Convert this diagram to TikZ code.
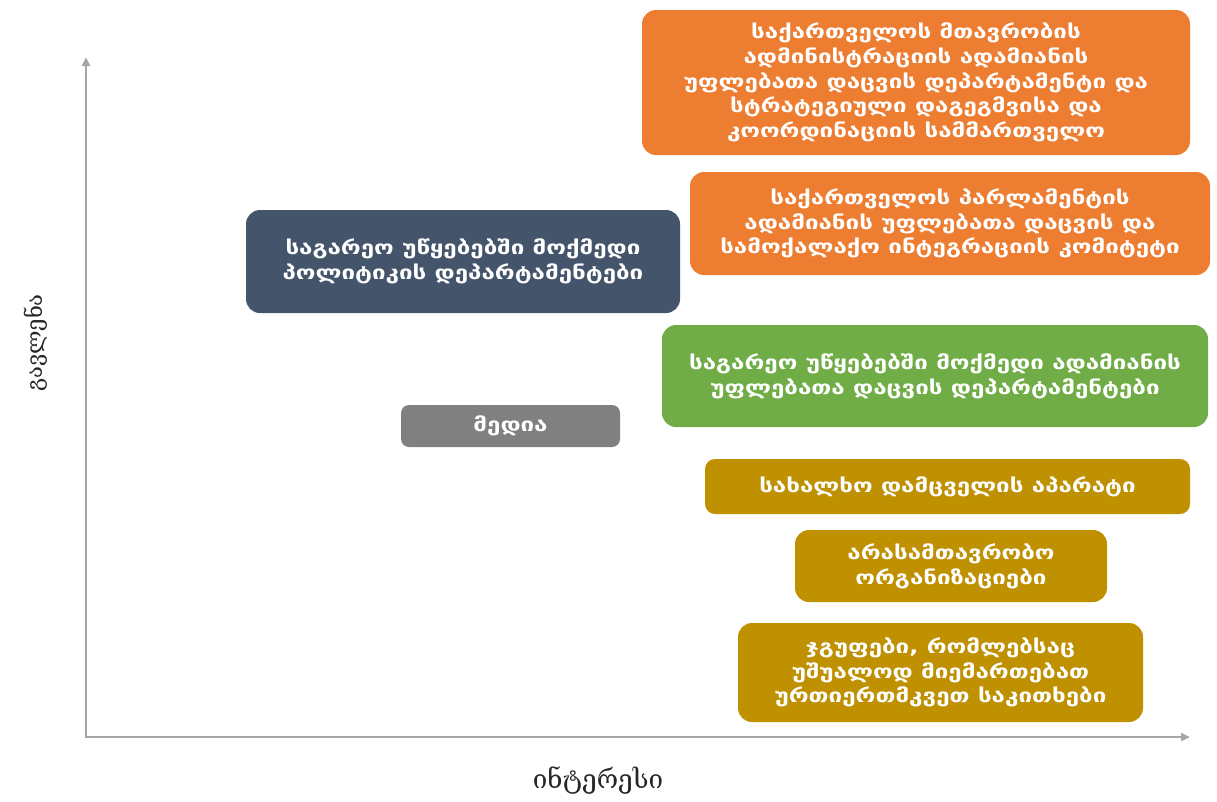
\documentclass[tikz,border=0pt]{standalone}
\usepackage{fontspec}
\setmainfont{DejaVu Sans}
\newfontfamily\boxfont[FakeStretch=1.27]{DejaVu Sans}
\newfontfamily\axisfont{DejaVu Serif}
\usetikzlibrary{arrows.meta}
\definecolor{cOrange}{HTML}{ED7D31}
\definecolor{cNavy}{HTML}{44546A}
\definecolor{cGreen}{HTML}{70AD47}
\definecolor{cGray}{HTML}{808080}
\definecolor{cGold}{HTML}{BF9000}
\definecolor{cAxis}{HTML}{A6A6A6}
\definecolor{cLabel}{HTML}{262626}
\tikzset{
  card/.style={rounded corners=14pt, inner sep=0pt, align=center, text=white,
    font=\boxfont\bfseries\fontsize{19}{24.8}\selectfont},
  axisline/.style={draw=cAxis, line width=2.5pt, {Triangle[length=9pt,width=8pt]}-{Triangle[length=9pt,width=8pt]}},
  axislabel/.style={text=cLabel, font=\axisfont\fontsize{26}{30}\selectfont}
}
\begin{document}
\begin{tikzpicture}[x=1pt,y=-1pt]
\useasboundingbox (0,0) rectangle (1217,801);
\coordinate (top) at (86,57);
\coordinate (orig) at (86,737);
\coordinate (right) at (1190,737);
\draw[axisline] (top) -- (orig) -- (right);
\node[axislabel, rotate=90, font=\axisfont\fontsize{22}{26}\selectfont] (ylab) at (36,343) {გავლენა};
\node[axislabel] (xlab) at (598,780) {ინტერესი};

\node[card, fill=cOrange, minimum width=548pt, minimum height=145pt] (b1) at (916,82.5)
 {საქართველოს მთავრობის\\ადმინისტრაციის ადამიანის\\უფლებათა დაცვის დეპარტამენტი და\\სტრატეგიული დაგეგმვისა და\\კოორდინაციის სამმართველო};
\node[card, fill=cOrange, minimum width=520pt, minimum height=103pt] (b2) at (950,223.5)
 {საქართველოს პარლამენტის\\ადამიანის უფლებათა დაცვის და\\სამოქალაქო ინტეგრაციის კომიტეტი};
\node[card, fill=cNavy, minimum width=434pt, minimum height=103pt] (b3) at (463,261.5)
 {საგარეო უწყებებში მოქმედი\\პოლიტიკის დეპარტამენტები};
\node[card, fill=cGreen, minimum width=546pt, minimum height=102pt] (b4) at (935,376)
 {საგარეო უწყებებში მოქმედი ადამიანის\\უფლებათა დაცვის დეპარტამენტები};
\node[card, fill=cGray, rounded corners=8pt, minimum width=219pt, minimum height=42pt] (b5) at (510.5,426)
 {მედია};
\node[card, fill=cGold, rounded corners=10pt, minimum width=485pt, minimum height=55pt] (b6) at (947.5,486.5)
 {სახალხო დამცველის აპარატი};
\node[card, fill=cGold, minimum width=312pt, minimum height=72pt] (b7) at (951,566)
 {არასამთავრობო\\ორგანიზაციები};
\node[card, fill=cGold, minimum width=405pt, minimum height=99pt] (b8) at (940.5,672.5)
 {ჯგუფები, რომლებსაც\\უშუალოდ მიემართებათ\\ურთიერთმკვეთ საკითხები};
\end{tikzpicture}
\end{document}
